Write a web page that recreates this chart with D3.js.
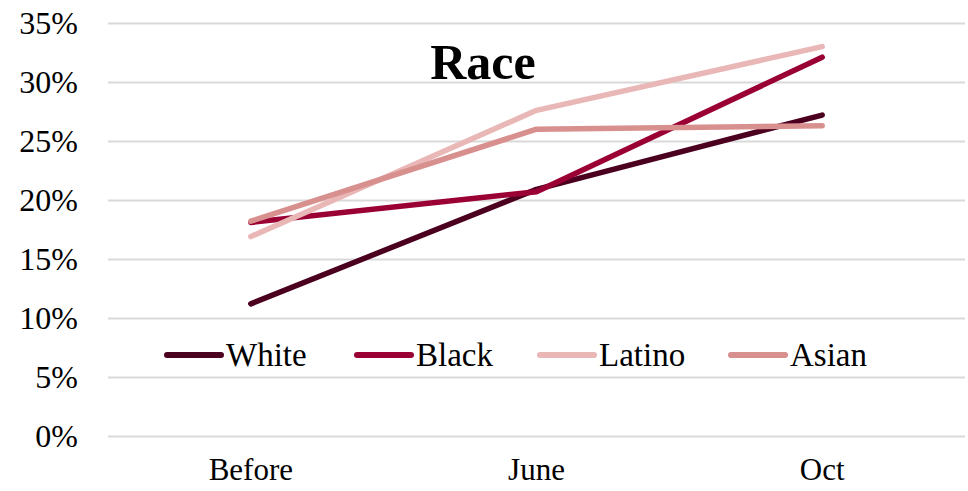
<!DOCTYPE html>
<html><head><meta charset="utf-8">
<script src="https://cdn.jsdelivr.net/npm/d3@7"></script>
<style>body{margin:0;background:#fff}svg{display:block}text{font-family:"Liberation Serif","Times New Roman",serif}</style>
</head><body>
<svg id="c" width="968" height="491"></svg>
<script>
const categories = ["Before", "June", "Oct"];
const seriesNames = ["White", "Black", "Latino", "Asian"];
const white = [0.112, 0.209, 0.272];
const black = [0.181, 0.207, 0.321];
const latino = [0.169, 0.276, 0.330];
const asian = [0.182, 0.260, 0.263];
const yTicks = [0, 0.05, 0.10, 0.15, 0.20, 0.25, 0.30, 0.35];
const colors = ["#4b0020", "#9b0035", "#e8b7b6", "#d8908e"];
const series = [white, black, latino, asian];

const svg = d3.select("#c");
const x = d3.scaleBand().domain(categories).range([108, 965]);
const y = d3.scaleLinear().domain([0, 0.35]).range([436, 23]);

const yAxis = svg.append("g").attr("transform", "translate(108,0)")
  .call(d3.axisLeft(y).tickValues(yTicks).tickFormat(d3.format(".0%")).tickSize(-(965-108)).tickPadding(30));
yAxis.select(".domain").remove();
yAxis.selectAll("line").attr("stroke", "#d9d9d9").attr("stroke-width", 2);
yAxis.selectAll("text").attr("font-size", 32).attr("fill", "#000");

const xAxis = svg.append("g").attr("transform", "translate(0,436)")
  .call(d3.axisBottom(x).tickSize(0).tickPadding(22));
xAxis.select(".domain").remove();
xAxis.selectAll("text").attr("font-size", 31).attr("fill", "#000");

const line = d3.line().x((d, i) => x(categories[i]) + x.bandwidth() / 2).y(d => y(d));
series.forEach((s, k) => {
  svg.append("path").datum(s).attr("d", line).attr("fill", "none")
    .attr("stroke", colors[k]).attr("stroke-width", 5.5).attr("stroke-linecap", "round").attr("stroke-linejoin", "round");
});

svg.append("text").attr("x", 483).attr("y", 79).attr("text-anchor", "middle")
  .attr("font-size", 50).attr("font-weight", "bold").text("Race");

const legX = [167, 357, 540, 731];
seriesNames.forEach((n, k) => {
  svg.append("line").attr("x1", legX[k]).attr("x2", legX[k] + 54).attr("y1", 355).attr("y2", 355)
    .attr("stroke", colors[k]).attr("stroke-width", 6).attr("stroke-linecap", "round");
  svg.append("text").attr("x", legX[k] + 59).attr("y", 366).attr("font-size", 33).text(n);
});
</script>
</body></html>
